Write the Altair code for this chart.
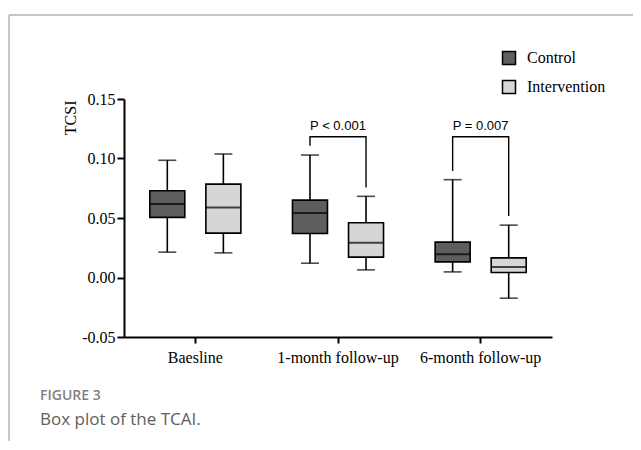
import altair as alt
import pandas as pd

groups = ["Baesline", "1-month follow-up", "6-month follow-up"]
series = ["Control", "Intervention"]
colors = ["#5e5e5e", "#d6d6d6"]

# box statistics per series, in group order
lower_w = {"Control": [0.0213, 0.0120, 0.0047], "Intervention": [0.0207, 0.0064, -0.0174]}
q1 = {"Control": [0.0505, 0.0370, 0.0131], "Intervention": [0.0373, 0.0171, 0.0042]}
median = {"Control": [0.0617, 0.0541, 0.0196], "Intervention": [0.0589, 0.0291, 0.0089]}
q3 = {"Control": [0.0729, 0.0650, 0.0297], "Intervention": [0.0785, 0.0460, 0.0165]}
upper_w = {"Control": [0.0985, 0.1029, 0.0822], "Intervention": [0.1038, 0.0682, 0.0440]}

# significance brackets
bracket_groups = ["1-month follow-up", "6-month follow-up"]
p_labels = ["P < 0.001", "P = 0.007"]
bracket_top = [0.1183, 0.1183]
bracket_left = [0.1108, 0.0895]
bracket_right = [0.0757, 0.0516]

y_ticks = [-0.05, 0.0, 0.05, 0.10, 0.15]

rows = []
for s in series:
    for i, g in enumerate(groups):
        rows.append(dict(group=g, series=s, lo=lower_w[s][i], q1=q1[s][i],
                         med=median[s][i], q3=q3[s][i], hi=upper_w[s][i]))
box_df = pd.DataFrame(rows)

brows = []
for i, g in enumerate(bracket_groups):
    brows += [
        dict(group=g, series="Control", v=bracket_left[i], o=0),
        dict(group=g, series="Control", v=bracket_top[i], o=1),
        dict(group=g, series="Intervention", v=bracket_top[i], o=2),
        dict(group=g, series="Intervention", v=bracket_right[i], o=3),
    ]
br_df = pd.DataFrame(brows)
ptxt_df = pd.DataFrame(dict(group=bracket_groups, label=p_labels, v=bracket_top))

W, H = 428, 238
SERIF = "Liberation Serif"

x_enc = alt.X("group:N", sort=groups,
              scale=alt.Scale(paddingInner=0, paddingOuter=0),
              axis=alt.Axis(title=None, labelAngle=0, labelPadding=6,
                            labelFont=SERIF, labelFontSize=16, labelColor="black",
                            tickSize=6))
xo_enc = alt.XOffset("series:N", sort=series,
                     scale=alt.Scale(paddingInner=0.375, paddingOuter=0.46))
y_scale = alt.Scale(domain=[-0.05, 0.15], nice=False, zero=False)
y_axis = alt.Axis(values=y_ticks,
                  labelExpr="datum.value < 0 ? '-' + format(-datum.value, '.2f') : format(datum.value, '.2f')",
                  title="TCSI", titleAngle=-90,
                  titleX=-49, titleY=1, titleAlign="right", titleBaseline="alphabetic",
                  titleFont=SERIF, titleFontSize=16, titleFontWeight="normal",
                  titleColor="black", labelPadding=2, labelFont=SERIF, labelFontSize=16,
                  labelColor="black", tickSize=7)


def Y(field):
    return alt.Y(field, scale=y_scale, axis=y_axis)


base = alt.Chart(box_df)

whisk = base.mark_rule(color="black", strokeWidth=1.6).encode(
    x=x_enc, xOffset=xo_enc, y=Y("lo:Q"), y2="hi:Q")

boxes = base.mark_bar(stroke="black", strokeWidth=1.6, width=35).encode(
    x=x_enc, xOffset=xo_enc, y=Y("q1:Q"), y2="q3:Q",
    fill=alt.Fill("series:N", sort=series,
                  scale=alt.Scale(domain=series, range=colors),
                  legend=alt.Legend(title=None, orient="none", legendX=377, legendY=-49,
                                    symbolType="square", symbolSize=169,
                                    symbolStrokeColor="black", symbolStrokeWidth=1.5,
                                    labelFont=SERIF, labelFontSize=16, labelColor="black",
                                    rowPadding=9, padding=0, labelOffset=10)))

meds = base.mark_tick(color="black", thickness=2, size=35).encode(
    x=x_enc, xOffset=xo_enc, y=Y("med:Q"))
cap_lo = base.mark_tick(color="black", thickness=1.6, size=18).encode(
    x=x_enc, xOffset=xo_enc, y=Y("lo:Q"))
cap_hi = base.mark_tick(color="black", thickness=1.6, size=18).encode(
    x=x_enc, xOffset=xo_enc, y=Y("hi:Q"))

brackets = alt.Chart(br_df).mark_line(color="black", strokeWidth=1.4).encode(
    x=x_enc, xOffset=xo_enc, y=Y("v:Q"),
    detail="group:N", order="o:Q")

ptext = alt.Chart(ptxt_df).mark_text(font="Liberation Sans", fontSize=13, dy=-11,
                                     color="black").encode(
    x=x_enc, y=Y("v:Q"), text="label:N")

one = pd.DataFrame({"a": [0]})
frame_top = alt.Chart(one).mark_rule(color="#b5b5b5", strokeWidth=1.5).encode(
    x=alt.value(-115), x2=alt.value(W + 90), y=alt.value(-84))
frame_left = alt.Chart(one).mark_rule(color="#b5b5b5", strokeWidth=1.5).encode(
    x=alt.value(-115), y=alt.value(-84), y2=alt.value(H + 110))
cap1 = alt.Chart(one).mark_text(text="FIGURE 3", font="Open Sans", fontSize=14,
                                fontWeight=600, color="#808080", align="left",
                                baseline="alphabetic").encode(
    x=alt.value(-84), y=alt.value(301))
cap2 = alt.Chart(one).mark_text(text="Box plot of the TCAI.", font="Open Sans",
                                fontSize=17, color="#606060", align="left",
                                baseline="alphabetic").encode(
    x=alt.value(-84), y=alt.value(326))

chart = alt.layer(frame_top, frame_left, whisk, boxes, meds, cap_lo, cap_hi,
                  brackets, ptext, cap1, cap2).properties(
    width=W, height=H,
    autosize=alt.AutoSizeParams(type="none"),
    padding={"left": 116, "top": 91, "right": 81, "bottom": 104},
).configure_view(stroke=None).configure_axis(
    grid=False, domainColor="black", domainWidth=2, tickColor="black", tickWidth=2,
    labelFont=SERIF, labelFontSize=16, labelColor="black")

chart.save("out.html", embed_options={"renderer": "svg", "actions": False})
